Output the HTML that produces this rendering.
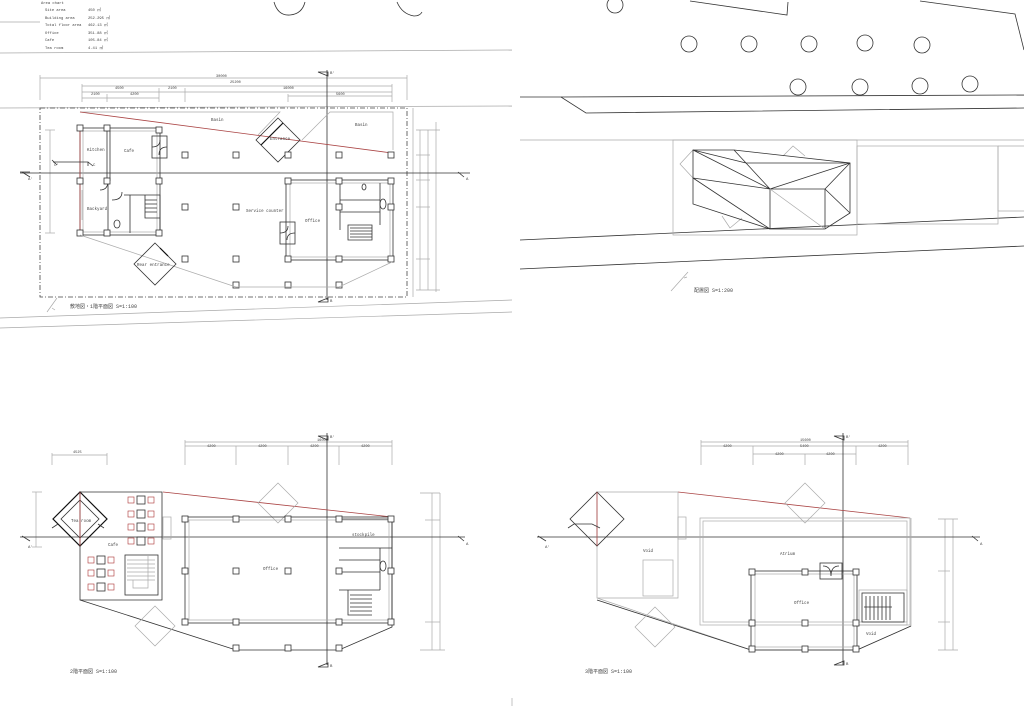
<!DOCTYPE html>
<html><head><meta charset="utf-8"><style>
html,body{margin:0;padding:0;background:#fff}
svg{display:block;font-size:4.2px}
text{font-family:"Liberation Mono","Noto Sans CJK JP",monospace;fill:#444}
.k{stroke:#333;stroke-width:.8;fill:none}
.b{stroke:#111;stroke-width:1.2;fill:none}
.g{stroke:#aaa;stroke-width:.7;fill:none}
.r{stroke:#a44;stroke-width:.8;fill:none}
.d{stroke:#444;stroke-width:.8;fill:none;stroke-dasharray:5 2 1 2}
.c{stroke:#333;stroke-width:.8;fill:#fff}
</style></head><body>
<svg width="1024" height="709" viewBox="0 0 1024 709" xmlns="http://www.w3.org/2000/svg">
<defs>
<rect id="col" x="-3" y="-3" width="6" height="6" class="c"/>
<g id="chair"><rect x="-3" y="-3" width="6" height="6" fill="none" stroke="#a33" stroke-width=".6"/></g>
</defs>

<g font-size="3.8">
<text x="41" y="4">Area chart</text>
<text x="45" y="11">Site area</text><text x="88" y="11">450 ㎡</text>
<text x="45" y="19">Building area</text><text x="88" y="19">252.295 ㎡</text>
<text x="45" y="26">Total floor area</text><text x="88" y="26">462.13 ㎡</text>
<text x="45" y="34">Office</text><text x="88" y="34">351.88 ㎡</text>
<text x="45" y="41">Cafe</text><text x="88" y="41">105.84 ㎡</text>
<text x="45" y="49">Tea room</text><text x="88" y="49">4.41 ㎡</text>
</g>
<line x1="0" y1="22" x2="40" y2="22" class="g"/>
<line x1="0" y1="53" x2="512" y2="50" class="g"/>
<path d="M274 2 Q278 16 290 15 Q302 14 305 2" class="k"/>
<path d="M397 2 Q402 14 414 16 Q420 16 422 12" class="k"/>

<!-- ===== Plan 1 ===== -->
<line x1="0" y1="108" x2="512" y2="106" class="g"/>
<line x1="0" y1="318" x2="512" y2="300" class="g"/>
<line x1="0" y1="328" x2="512" y2="312" class="g"/>
<rect x="40" y="108" width="367" height="189" class="d"/>
<line x1="413" y1="108" x2="413" y2="297" class="g"/>
<g class="g">
<line x1="40" y1="78" x2="407" y2="78"/><line x1="40" y1="75" x2="40" y2="100"/><line x1="407" y1="75" x2="407" y2="100"/>
<line x1="82" y1="86" x2="392" y2="86"/><line x1="82" y1="92" x2="392" y2="92"/><line x1="82" y1="98" x2="159" y2="98"/><line x1="288" y1="96" x2="392" y2="96"/>
<line x1="82" y1="84" x2="82" y2="102"/><line x1="107" y1="94" x2="107" y2="102"/><line x1="159" y1="88" x2="159" y2="102"/><line x1="185" y1="88" x2="185" y2="102"/><line x1="392" y1="84" x2="392" y2="102"/><line x1="288" y1="94" x2="288" y2="102"/>
<line x1="45" y1="130" x2="55" y2="130"/><line x1="50" y1="130" x2="50" y2="233"/><line x1="45" y1="233" x2="55" y2="233"/>
<line x1="420" y1="130" x2="420" y2="290"/><line x1="428" y1="130" x2="428" y2="290"/><line x1="436" y1="122" x2="436" y2="292"/><line x1="416" y1="130" x2="440" y2="130"/><line x1="416" y1="155" x2="430" y2="155"/><line x1="416" y1="180" x2="430" y2="180"/><line x1="416" y1="207" x2="430" y2="207"/><line x1="416" y1="259" x2="430" y2="259"/><line x1="416" y1="290" x2="440" y2="290"/>
</g>
<g font-size="3.6"><text x="216" y="77">30000</text><text x="230" y="83">25200</text><text x="115" y="89">4500</text><text x="168" y="89">2100</text><text x="283" y="89">16000</text><text x="91" y="95">2100</text><text x="130" y="95">4200</text><text x="336" y="95">5600</text></g>
<line x1="20" y1="173" x2="470" y2="173" class="k"/>
<line x1="327" y1="70" x2="327" y2="300" class="k"/>
<path d="M22 172 L30 177 M20 172 L30 172" class="k"/><text x="28" y="180" font-size="4">A'</text>
<path d="M458 172 L464 177" class="k"/><text x="466" y="180" font-size="4">A</text>
<path d="M318 72 L328 72 L328 76 Z" class="k"/><text x="330" y="74" font-size="4">B'</text>
<path d="M318 302 L328 298 L328 302 Z" class="k"/><text x="330" y="302" font-size="4">B</text>
<path d="M80 112 L280 112 L258 135" class="g"/><path d="M80 112 L392 153" class="r"/>
<path d="M302 140 L330 112 L393 112 L393 150" class="g"/>
<text x="211" y="121">Basin</text><text x="355" y="126">Basin</text>
<path d="M278 118 L300 140 L278 162 L256 140 Z" class="k"/><path d="M283 123 L261 145" class="b"/>
<text x="270" y="140">Entrance</text>
<rect x="80" y="128" width="80" height="107" class="k"/><rect x="83" y="131" width="74" height="101" class="g"/>
<line x1="80" y1="128" x2="80" y2="235" class="r"/>
<line x1="107" y1="128" x2="107" y2="181" class="k"/><line x1="110" y1="131" x2="110" y2="181" class="k"/>
<rect x="152" y="136" width="15" height="22" class="k"/><path d="M152 147 Q160 147 160 140 M167 147 Q159 147 159 155" class="k"/>
<path d="M108 180 L108 235 M124 195 L160 195 L160 233 M130 195 L130 233 M145 195 L145 218 L160 218" class="k"/>
<path d="M145 200 h12 M145 204 h12 M145 208 h12 M145 212 h12" class="k"/>
<path d="M100 190 Q108 190 108 181 M112 200 Q122 200 122 192" class="k"/>
<ellipse cx="117" cy="224" rx="3" ry="4" class="k"/>
<line x1="82" y1="190" x2="82" y2="220" class="g"/>
<text x="87" y="151">Kitchen</text><text x="124" y="152">Cafe</text><text x="87" y="210">Backyard</text>
<path d="M53 162 L88 162 L88 166 M88 162 L93 166" class="k"/><text x="93" y="166" font-size="4">C</text>
<path d="M57 165 L52 160" class="k"/><text x="54" y="166" font-size="4">C'</text>
<use href="#col" x="80" y="128"/><use href="#col" x="107" y="128"/><use href="#col" x="159" y="130"/><use href="#col" x="80" y="181"/><use href="#col" x="107" y="181"/><use href="#col" x="159" y="181"/><use href="#col" x="80" y="233"/><use href="#col" x="107" y="233"/><use href="#col" x="159" y="233"/>
<use href="#col" x="185" y="155"/><use href="#col" x="236" y="155"/><use href="#col" x="288" y="155"/><use href="#col" x="339" y="155"/><use href="#col" x="391" y="155"/>
<use href="#col" x="185" y="207"/><use href="#col" x="236" y="207"/>
<use href="#col" x="185" y="259"/><use href="#col" x="236" y="259"/>
<use href="#col" x="236" y="285"/><use href="#col" x="288" y="285"/><use href="#col" x="339" y="285"/>
<rect x="286" y="180" width="107" height="80" class="k"/><rect x="290" y="183" width="100" height="74" class="g"/>
<path d="M340 183 L340 230 M340 200 L380 200 M340 212 L380 212 M380 183 L380 225 M348 225 L372 225 L372 240 L348 240 Z" class="k"/>
<path d="M350 228 h22 M350 231 h22 M350 234 h22 M350 237 h22" class="k"/>
<ellipse cx="383" cy="204" rx="3" ry="5" class="k"/><ellipse cx="364" cy="187" rx="2" ry="3" class="k"/>
<rect x="280" y="222" width="15" height="22" class="k"/><path d="M280 233 Q288 233 288 226 M295 233 Q287 233 287 240" class="k"/>
<use href="#col" x="288" y="181"/><use href="#col" x="339" y="181"/><use href="#col" x="391" y="181"/><use href="#col" x="339" y="207"/><use href="#col" x="391" y="207"/><use href="#col" x="288" y="259"/><use href="#col" x="339" y="259"/><use href="#col" x="391" y="259"/>
<text x="246" y="212">Service counter</text><text x="305" y="222">Office</text>
<path d="M80 235 L236 287 L339 287 L392 262" class="g"/>
<path d="M155 243 L176 264 L155 285 L134 264 Z" class="k"/><path d="M160 248 L168 256" class="b"/>
<text x="137" y="266">Rear entrance</text>
<path d="M47 312 L57 298 M52 308 l3 2" class="g"/>
<text x="70" y="308" font-size="5">敷地図・1階平面図 S=1:100</text>

<!-- ===== Site plan ===== -->
<g class="k">
<circle cx="615" cy="5" r="8"/>
<circle cx="689" cy="44" r="8"/><circle cx="749" cy="44" r="8"/><circle cx="809" cy="44" r="8"/><circle cx="865" cy="43" r="8"/><circle cx="922" cy="45" r="8"/>
<circle cx="798" cy="87" r="8"/><circle cx="860" cy="87" r="8"/><circle cx="920" cy="86" r="8"/><circle cx="970" cy="84" r="8"/>
<path d="M690 1 L787 15 L788 2"/><path d="M920 1 L1015 14 L1024 50"/>
<path d="M520 97 L561 97 L586 113 L1024 108"/><path d="M561 97 L1024 95"/>
<path d="M520 240 L1024 217"/><path d="M520 269 L1024 246"/>
</g>
<g class="g">
<path d="M520 140 L1024 140"/><rect x="673" y="140" width="184" height="95"/>
<rect x="857" y="146" width="141" height="78"/><path d="M998 146 L1024 146 M998 146 L998 211 L1024 211"/>
<path d="M693 150 L680 164 L693 178 M783 156 L793 146 L805 156 M722 216 L730 228 L742 218"/>
</g>
<g class="k">
<path d="M693 150 L734 150 L850 163 L850 213 L825 229 L770 229 L693 204 Z"/>
<path d="M693 150 L770 189 M693 178 L770 189 M693 178 L770 229 M734 150 L746 163 L770 189 M746 163 L850 163 M770 189 L850 163 M770 189 L825 189 L850 163 M825 189 L850 213 M770 189 L770 229 M825 189 L825 229 M693 150 L746 163"/>
</g>
<line x1="770" y1="189" x2="825" y2="229" class="g"/>
<path d="M671 291 L688 272 M684 278 l3 -1" class="g"/>
<text x="694" y="292" font-size="5">配置図 S=1:200</text>

<!-- ===== 2F ===== -->
<g class="g">
<line x1="185" y1="442" x2="392" y2="442"/><line x1="185" y1="446" x2="392" y2="446"/>
<line x1="185" y1="440" x2="185" y2="465"/><line x1="236" y1="446" x2="236" y2="465"/><line x1="288" y1="446" x2="288" y2="465"/><line x1="339" y1="446" x2="339" y2="465"/><line x1="392" y1="440" x2="392" y2="465"/>
<line x1="52" y1="455" x2="107" y2="455"/><line x1="52" y1="453" x2="52" y2="465"/><line x1="107" y1="453" x2="107" y2="465"/>
<line x1="32" y1="492" x2="42" y2="492"/><line x1="36" y1="492" x2="36" y2="547"/><line x1="32" y1="547" x2="42" y2="547"/>
<line x1="420" y1="493" x2="440" y2="493"/><line x1="432" y1="493" x2="432" y2="650"/><line x1="440" y1="493" x2="440" y2="650"/><line x1="425" y1="520" x2="440" y2="520"/><line x1="425" y1="622" x2="440" y2="622"/><line x1="420" y1="650" x2="445" y2="650"/>
</g>
<g font-size="3.6"><text x="317" y="441">16000</text><text x="207" y="447">4200</text><text x="258" y="447">4200</text><text x="310" y="447">4200</text><text x="361" y="447">4200</text><text x="73" y="453">4525</text></g>
<line x1="20" y1="537" x2="465" y2="537" class="k"/><line x1="327" y1="433" x2="327" y2="665" class="k"/>
<path d="M22 536 L30 541" class="k"/><text x="28" y="548" font-size="4">A'</text><path d="M458 536 L464 541" class="k"/><text x="466" y="545" font-size="4">A</text>
<path d="M318 436 L328 436 L328 440 Z" class="k"/><text x="330" y="438" font-size="4">B'</text>
<path d="M318 667 L328 663 L328 667 Z" class="k"/><text x="330" y="667" font-size="4">B</text>
<path d="M163 492 L392 517" class="r"/>
<path d="M80 492 L162 492 L162 600 L80 600 Z" class="k"/><path d="M80 600 L236 650 L339 650 L392 627 L392 517" class="k"/>
<path d="M278 483 L298 503 L278 523 L258 503 Z" class="g"/><path d="M155 606 L175 626 L155 646 L135 626 Z" class="g"/>
<path d="M80 492 L107 519 L80 546 L53 519 Z" class="b"/><path d="M80 500 L99 519 L80 538 L61 519 Z" class="k"/>
<line x1="80" y1="492" x2="80" y2="546" class="r"/>
<text x="71" y="522">Tea room</text><text x="108" y="546">Cafe</text>
<path d="M52 528 L58 524 M98 524 L104 528" class="k"/>
<g class="k"><rect x="137" y="496" width="8" height="8"/><rect x="137" y="510" width="8" height="8"/><rect x="137" y="523" width="8" height="8"/><rect x="137" y="537" width="8" height="8"/><rect x="97" y="556" width="8" height="8"/><rect x="97" y="569" width="8" height="8"/><rect x="97" y="583" width="8" height="8"/></g>
<use href="#chair" x="131" y="500"/><use href="#chair" x="151" y="500"/><use href="#chair" x="131" y="514"/><use href="#chair" x="151" y="514"/><use href="#chair" x="131" y="527"/><use href="#chair" x="151" y="527"/><use href="#chair" x="131" y="541"/><use href="#chair" x="151" y="541"/>
<use href="#chair" x="91" y="560"/><use href="#chair" x="111" y="560"/><use href="#chair" x="91" y="573"/><use href="#chair" x="111" y="573"/><use href="#chair" x="91" y="587"/><use href="#chair" x="111" y="587"/>
<rect x="125" y="555" width="33" height="40" class="k"/><path d="M127 560 h28 M127 564 h28 M127 568 h28 M127 572 h28 M127 576 h28 M127 580 h28 M133 580 L133 588 L148 588 L148 556" class="g"/>
<rect x="163" y="517" width="8" height="22" class="g"/>
<rect x="185" y="517" width="207" height="106" class="k"/><rect x="189" y="520" width="200" height="100" class="g"/>
<path d="M339 519 L392 519 M339 548 L392 548 M339 560 L380 560 M339 572 L380 572 M380 548 L380 590 M339 590 L380 590 M348 590 L348 615 L372 615" class="k"/>
<path d="M350 595 h22 M350 599 h22 M350 603 h22 M350 607 h22 M350 611 h22" class="k"/>
<ellipse cx="383" cy="566" rx="3" ry="5" class="k"/>
<text x="352" y="536">stockpile</text><text x="263" y="570">Office</text>
<use href="#col" x="185" y="519"/><use href="#col" x="236" y="519"/><use href="#col" x="288" y="519"/><use href="#col" x="339" y="519"/><use href="#col" x="391" y="519"/>
<use href="#col" x="185" y="571"/><use href="#col" x="236" y="571"/><use href="#col" x="288" y="571"/><use href="#col" x="339" y="571"/><use href="#col" x="391" y="571"/>
<use href="#col" x="185" y="622"/><use href="#col" x="236" y="622"/><use href="#col" x="339" y="622"/><use href="#col" x="391" y="622"/>
<use href="#col" x="236" y="648"/><use href="#col" x="288" y="648"/><use href="#col" x="339" y="648"/>
<text x="70" y="673" font-size="5">2階平面図 S=1:100</text>

<!-- ===== 3F ===== -->
<g class="g">
<line x1="701" y1="442" x2="908" y2="442"/><line x1="701" y1="446" x2="908" y2="446"/><line x1="753" y1="454" x2="856" y2="454"/>
<line x1="701" y1="440" x2="701" y2="465"/><line x1="753" y1="446" x2="753" y2="465"/><line x1="805" y1="454" x2="805" y2="465"/><line x1="856" y1="446" x2="856" y2="465"/><line x1="908" y1="440" x2="908" y2="465"/>
<line x1="938" y1="519" x2="958" y2="519"/><line x1="945" y1="519" x2="945" y2="650"/><line x1="953" y1="519" x2="953" y2="650"/><line x1="938" y1="571" x2="950" y2="571"/><line x1="938" y1="622" x2="950" y2="622"/><line x1="938" y1="650" x2="958" y2="650"/>
</g>
<g font-size="3.6"><text x="800" y="441">15600</text><text x="723" y="447">4200</text><text x="800" y="447">5400</text><text x="878" y="447">4200</text><text x="775" y="455">4200</text><text x="826" y="455">4200</text></g>
<line x1="537" y1="537" x2="980" y2="537" class="k"/><line x1="843" y1="433" x2="843" y2="665" class="k"/>
<path d="M538 536 L546 541" class="k"/><text x="545" y="548" font-size="4">A'</text><path d="M972 536 L978 541" class="k"/><text x="980" y="545" font-size="4">A</text>
<path d="M834 436 L844 436 L844 440 Z" class="k"/><text x="846" y="438" font-size="4">B'</text>
<path d="M834 665 L844 661 L844 665 Z" class="k"/><text x="846" y="665" font-size="4">B</text>
<path d="M678 492 L910 518" class="r"/>
<path d="M597 492 L678 492 L678 598 L597 598 Z M597 598 L751 650 L857 650 L911 626 L911 518" class="g"/>
<path d="M597 600 L751 650" class="k"/><path d="M857 650 L911 626" class="k"/>
<rect x="643" y="560" width="30" height="36" class="g"/><rect x="678" y="517" width="8" height="22" class="g"/>
<path d="M597 492 L624 519 L597 546 L570 519 Z" class="k"/><line x1="597" y1="492" x2="597" y2="546" class="r"/>
<path d="M568 528 L574 524 L592 524 L600 528" class="k"/>
<path d="M805 483 L825 503 L805 523 L785 503 Z" class="g"/><path d="M655 607 L675 627 L655 647 L635 627 Z" class="g"/>
<rect x="700" y="518" width="210" height="107" class="g"/><rect x="703" y="521" width="204" height="101" class="g"/>
<rect x="751" y="571" width="106" height="79" class="k"/><rect x="755" y="574" width="99" height="73" class="g"/>
<rect x="820" y="563" width="22" height="16" class="k"/><path d="M823 566 Q831 566 831 576 Q831 566 839 566" class="k"/>
<rect x="859" y="590" width="48" height="35" class="g"/><rect x="862" y="593" width="42" height="29" class="k"/>
<path d="M866 596 v24 M870 596 v24 M874 596 v24 M878 596 v24 M882 596 v24 M886 596 v24 M890 596 v24 M864 607 L892 607" class="k"/>
<use href="#col" x="752" y="572"/><use href="#col" x="805" y="572"/><use href="#col" x="856" y="572"/>
<use href="#col" x="752" y="623"/><use href="#col" x="805" y="623"/><use href="#col" x="856" y="623"/>
<use href="#col" x="752" y="649"/><use href="#col" x="805" y="649"/><use href="#col" x="856" y="649"/>
<text x="643" y="552">Void</text><text x="780" y="555">Atrium</text><text x="794" y="604">Office</text><text x="866" y="635">Void</text>
<text x="585" y="673" font-size="5">3階平面図 S=1:100</text>

<line x1="512" y1="698" x2="512" y2="706" class="g"/>
</svg>
</body></html>
